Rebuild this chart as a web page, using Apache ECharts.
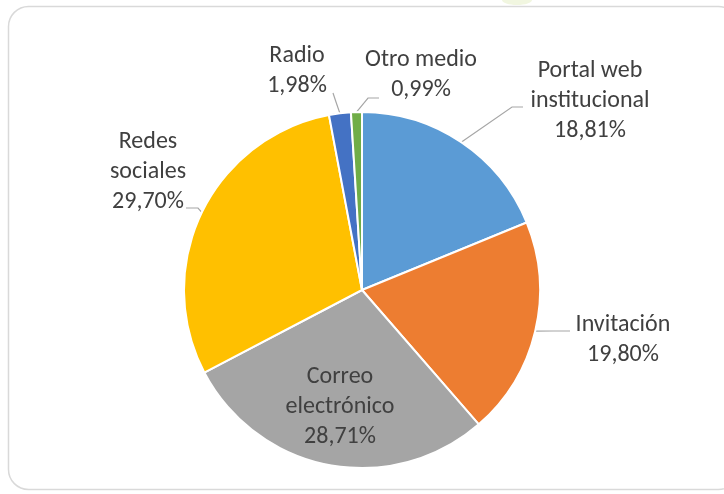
<!DOCTYPE html>
<html>
<head>
<meta charset="utf-8">
<script src="https://cdn.jsdelivr.net/npm/echarts@6/dist/echarts.min.js"></script>
<style>
html,body{margin:0;padding:0;background:#fff;}
#c{width:724px;height:494px;}
</style>
</head>
<body>
<div id="c"></div>
<script>
const categories = ["Portal web\ninstitucional", "Invitación", "Correo\nelectrónico", "Redes\nsociales", "Radio", "Otro medio"];
const percents = [18.81, 19.80, 28.71, 29.70, 1.98, 0.99];
const colors = ["#5B9BD5", "#ED7D31", "#A5A5A5", "#FFC000", "#4472C4", "#70AD47"];

// label centers and leader-line bends (layout only)
const labelPos = [[590, 101], [623, 340], [340, 407], [148, 172], [297, 71], [421, 75]];
const lineBends = [
  [[512, 107], [523, 107]],
  [[553, 331], [570, 331]],
  null,
  [[198, 208], [186, 208]],
  [[336, 102], [333, 93]],
  [[368, 98], [379, 98]]
];

const chart = echarts.init(document.getElementById('c'), null, {renderer: 'canvas'});
chart.setOption({
  animation: false,
  graphic: [{
    type: 'rect',
    shape: {x: 8.5, y: 6.5, width: 730, height: 483, r: 20},
    style: {fill: 'none', stroke: '#d9d9d9', lineWidth: 1.5},
    z: -1
  }, {
    type: 'ellipse',
    shape: {cx: 517, cy: 0, rx: 15, ry: 5},
    style: {fill: '#f1f6e0'},
    z: -2
  }],
  series: [{
    type: 'pie',
    center: [362, 290],
    radius: 178,
    startAngle: 90,
    clockwise: true,
    avoidLabelOverlap: false,
    itemStyle: {borderColor: '#fff', borderWidth: 2},
    label: {
      show: true,
      position: 'outside',
      fontFamily: 'Carlito, Lato, sans-serif',
      fontSize: 24,
      lineHeight: 30,
      color: '#404040',
      align: 'center',
      formatter: p => p.name + '\n' + p.value.toFixed(2).replace('.', ',') + '%'
    },
    labelLine: {show: true, length: 10, length2: 10, lineStyle: {color: '#a6a6a6', width: 1.2}},
    labelLayout: function (params) {
      const i = params.dataIndex;
      const pos = labelPos[i];
      const res = {x: pos[0], y: pos[1], align: 'center', verticalAlign: 'middle'};
      if (lineBends[i] && params.labelLinePoints) {
        res.labelLinePoints = [params.labelLinePoints[0], lineBends[i][0], lineBends[i][1]];
      }
      return res;
    },
    data: categories.map((c, i) => ({
      name: c, value: percents[i], itemStyle: {color: colors[i]},
      label: i === 2 ? {position: 'inside'} : undefined,
      labelLine: i === 2 ? {show: false} : undefined
    }))
  }]
});
</script>
</body>
</html>
